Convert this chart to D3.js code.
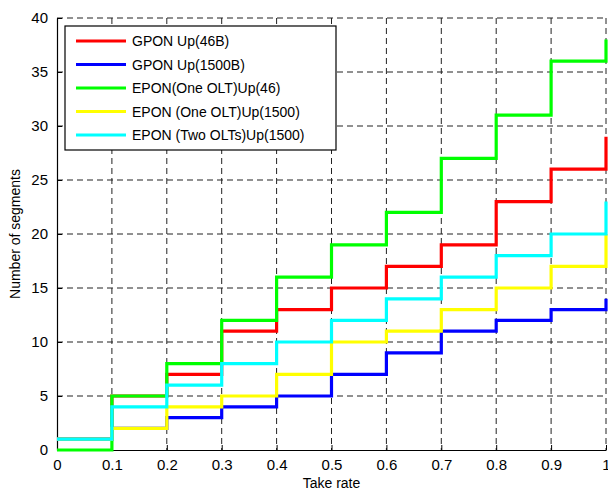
<!DOCTYPE html>
<html>
<head>
<meta charset="utf-8">
<script src="https://cdn.jsdelivr.net/npm/d3@7"></script>
<style>
body { margin: 0; background: #fff; }
svg text { font-family: Arial, "Liberation Sans", sans-serif; }
</style>
</head>
<body>
<svg id="chart" width="608" height="493"></svg>
<script>
// step values at take rate 0, 0.1, ... 1.0
var takeRate = [0, 0.1, 0.2, 0.3, 0.4, 0.5, 0.6, 0.7, 0.8, 0.9, 1.0];
var gponUp46 = [1, 5, 7, 11, 13, 15, 17, 19, 23, 26, 29];
var gponUp1500 = [1, 2, 3, 4, 5, 7, 9, 11, 12, 13, 14];
var eponOne46 = [0, 5, 8, 12, 16, 19, 22, 27, 31, 36, 38];
var eponOne1500 = [1, 2, 4, 5, 7, 10, 11, 13, 15, 17, 20];
var eponTwo1500 = [1, 4, 6, 8, 10, 12, 14, 16, 18, 20, 23];

var seriesNames = ["GPON Up(46B)", "GPON Up(1500B)", "EPON(One OLT)Up(46)", "EPON (One OLT)Up(1500)", "EPON (Two OLTs)Up(1500)"];
var seriesColors = ["#ff0000", "#0000ff", "#00ff00", "#ffff00", "#00ffff"];
var seriesValues = [gponUp46, gponUp1500, eponOne46, eponOne1500, eponTwo1500];

var xTicks = [0, 0.1, 0.2, 0.3, 0.4, 0.5, 0.6, 0.7, 0.8, 0.9, 1];
var yTicks = [0, 5, 10, 15, 20, 25, 30, 35, 40];

var svg = d3.select("#chart"),
margin = {top: 18, right: 2, bottom: 43, left: 57},
width = +svg.attr("width") - margin.left - margin.right,
height = +svg.attr("height") - margin.top - margin.bottom,
g = svg.append("g").attr("transform", "translate(" + margin.left + "," + margin.top + ")");

var x = d3.scaleLinear().domain([0, 1]).range([0, width]);
var y = d3.scaleLinear().domain([0, 40]).range([height, 0]);

// grid
g.append("g").selectAll("line")
.data(xTicks.slice(1))
.enter().append("line")
.attr("x1", function(d) { return x(d); })
.attr("x2", function(d) { return x(d); })
.attr("y1", 0).attr("y2", height)
.attr("stroke", "#222").attr("stroke-width", 1)
.attr("stroke-dasharray", "6,4");

g.append("g").selectAll("line")
.data(yTicks.slice(1))
.enter().append("line")
.attr("y1", function(d) { return y(d); })
.attr("y2", function(d) { return y(d); })
.attr("x1", 0).attr("x2", width)
.attr("stroke", "#222").attr("stroke-width", 1)
.attr("stroke-dasharray", "6,4");

// axes
var xAxis = g.append("g")
.attr("transform", "translate(0," + height + ")")
.call(d3.axisBottom(x).tickValues(xTicks).tickSizeInner(-5).tickSizeOuter(0).tickPadding(9)
.tickFormat(function(d) { return d === 0 ? "0" : d === 1 ? "1" : d3.format(".1f")(d); }));

var yAxis = g.append("g")
.call(d3.axisLeft(y).tickValues(yTicks).tickSizeInner(-5).tickSizeOuter(0).tickPadding(9));

[xAxis, yAxis].forEach(function(a) {
   a.select(".domain").attr("stroke", "#000").attr("stroke-width", 1.2);
   a.selectAll(".tick line").attr("stroke", "#000");
   a.selectAll(".tick text").attr("font-size", 15).attr("fill", "#000");
});

// step lines
var line = d3.line()
.x(function(d) { return x(d[0]); })
.y(function(d) { return y(d[1]); })
.curve(d3.curveStepAfter);

seriesValues.forEach(function(vals, i) {
   var pts = takeRate.map(function(t, j) { return [t, vals[j]]; });
   // hold the 0.9 level until x = 1, then jump up to the final value
   pts.splice(pts.length - 1, 0, [1, vals[vals.length - 2]]);
   g.append("path")
   .datum(pts)
   .attr("fill", "none")
   .attr("stroke", seriesColors[i])
   .attr("stroke-width", 3.2)
   .attr("d", line);
});

// legend
var legend = svg.append("g").attr("transform", "translate(65,26)");
legend.append("rect")
.attr("width", 271).attr("height", 124)
.attr("fill", "#fff").attr("stroke", "#000").attr("stroke-width", 1.2);

seriesNames.forEach(function(name, i) {
   var ly = 15 + i * 23.5;
   legend.append("line")
   .attr("x1", 11).attr("x2", 61)
   .attr("y1", ly).attr("y2", ly)
   .attr("stroke", seriesColors[i]).attr("stroke-width", 3.2);
   legend.append("text")
   .attr("x", 67).attr("y", ly + 5)
   .attr("font-size", 14)
   .text(name);
});

// axis titles
svg.append("text")
.attr("x", margin.left + width / 2).attr("y", 488)
.attr("text-anchor", "middle").attr("font-size", 14)
.text("Take rate");

svg.append("text")
.attr("transform", "translate(20," + (margin.top + height / 2) + ") rotate(-90)")
.attr("text-anchor", "middle").attr("font-size", 14)
.text("Number of segments");
</script>
</body>
</html>
